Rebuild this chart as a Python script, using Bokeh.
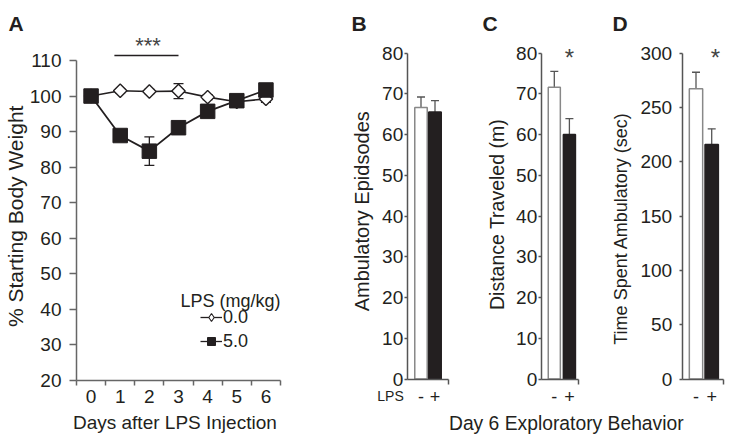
import math
from bokeh.plotting import figure
from bokeh.models import (Range1d, LinearAxis, FixedTicker, Label, Whisker, TeeHead,
                          ColumnDataSource, Legend, LegendItem)
from bokeh.embed import file_html
from bokeh.resources import INLINE

# ---------------- data ----------------
days = [0, 1, 2, 3, 4, 5, 6]
weight_ticks = [20, 30, 40, 50, 60, 70, 80, 90, 100, 110]
weight_ctrl = [100.0, 101.5, 101.3, 101.4, 99.7, 98.4, 99.2]        # LPS 0.0 mg/kg
weight_ctrl_sem = [0.4, 0.6, 0.6, 2.1, 0.7, 0.8, 1.0]
weight_lps = [100.0, 88.9, 84.5, 91.1, 95.7, 98.7, 101.7]           # LPS 5.0 mg/kg
weight_lps_sem = [0.5, 1.0, 4.0, 1.0, 1.2, 1.5, 1.8]
legend_doses = ["0.0", "5.0"]
sig_days = [0.8, 3.0]
sig_level = [111.4, 111.4]

lps_groups = ["-", "+"]
episodes = [66.6, 65.5]
episodes_sem = [2.6, 2.8]
episode_ticks = [0, 10, 20, 30, 40, 50, 60, 70, 80]
distance = [71.6, 60.0]
distance_sem = [3.9, 3.9]
distance_ticks = [0, 10, 20, 30, 40, 50, 60, 70, 80]
time_amb = [267.0, 215.8]
time_amb_sem = [15.3, 14.4]
time_ticks = [0, 50, 100, 150, 200, 250, 300]

# ---------------- layout ----------------
W, H = 729, 439
OFF = 8
FONT = "Liberation Sans"
INK = "#231f20"
AXC = "#555555"
NAN = float("nan")


def lin(v0, p0, v1, p1):
    p0, p1 = p0 + OFF, p1 + OFF
    s = (v1 - v0) / (p1 - p0)
    return lambda p: v0 + (p - p0) * s


def xrange_from(v0, p0, v1, p1):
    f = lin(v0, p0, v1, p1)
    return Range1d(f(0), f(W)), (lambda q: f(q + OFF))


def yrange_from(v0, p0, v1, p1):
    f = lin(v0, p0, v1, p1)
    return Range1d(f(H), f(0)), (lambda q: f(q + OFF))


p = figure(width=W, height=H, x_range=Range1d(0, W), y_range=Range1d(0, H),
           x_axis_type=None, y_axis_type=None, title=None,
           toolbar_location=None, output_backend="svg", min_border=0,
           outline_line_color=None, background_fill_color="white",
           border_fill_color="white")

xA, fxA = xrange_from(-0.5, 68, 6.5, 272)
yA, fyA = yrange_from(20, 372, 110, 52)
xB, fxB = xrange_from(0, 412.5, 1, 426.5)
yB, fyB = yrange_from(0, 370.5, 80, 44.5)
xC, fxC = xrange_from(0, 545.8, 1, 560.9)
yC, fyC = yrange_from(0, 370.5, 80, 44.5)
xD, fxD = xrange_from(0, 687.5, 1, 703.2)
yD, fyD = yrange_from(0, 370.5, 300, 44.5)
p.extra_x_ranges = {"A": xA, "B": xB, "C": xC, "D": xD}
p.extra_y_ranges = {"A": yA, "B": yB, "C": yC, "D": yD}


def txt(s, x, y, size, align="center", baseline="middle", angle=0.0,
        bold=False, color=INK):
    p.add_layout(Label(x=x + OFF, y=H - (y + OFF), text=s, text_font=FONT,
                       text_font_size=f"{size}px", text_align=align,
                       text_baseline=baseline, angle=angle,
                       text_font_style="bold" if bold else "normal",
                       text_color=color))


def style_axis(ax, color, tick_size="19px"):
    ax.axis_line_color = color
    ax.axis_line_width = 1.5
    ax.major_tick_line_color = color
    ax.major_tick_line_width = 1.5
    ax.minor_tick_line_color = color
    ax.minor_tick_line_width = 1.5
    ax.major_label_text_font = FONT
    ax.major_label_text_font_size = tick_size
    ax.major_label_text_color = INK
    ax.major_tick_in = 0
    ax.minor_tick_in = 0


# ---------------- panel A ----------------
ay = LinearAxis(x_range_name="A", y_range_name="A", fixed_location=-0.5,
                bounds=(weight_ticks[0], weight_ticks[-1]),
                ticker=FixedTicker(ticks=weight_ticks, minor_ticks=[]))
style_axis(ay, "#666666")
ay.major_tick_out = 7
ay.minor_tick_out = 0
ay.major_label_standoff = 8
p.add_layout(ay, "left")

ax = LinearAxis(x_range_name="A", y_range_name="A", fixed_location=weight_ticks[0],
                bounds=(days[0] - 0.5, days[-1] + 0.5),
                ticker=FixedTicker(ticks=days, minor_ticks=[d - 0.5 for d in days] + [days[-1] + 0.5]))
style_axis(ax, "#666666")
ax.major_tick_out = 0
ax.minor_tick_out = 5
ax.major_label_standoff = 4
p.add_layout(ax, "below")

src_c = ColumnDataSource(dict(x=days, y=weight_ctrl,
                              lo=[m - e for m, e in zip(weight_ctrl, weight_ctrl_sem)],
                              hi=[m + e for m, e in zip(weight_ctrl, weight_ctrl_sem)]))
src_l = ColumnDataSource(dict(x=days, y=weight_lps,
                              lo=[m - e for m, e in zip(weight_lps, weight_lps_sem)],
                              hi=[m + e for m, e in zip(weight_lps, weight_lps_sem)]))
for s in (src_c, src_l):
    p.add_layout(Whisker(source=s, base="x", lower="lo", upper="hi", dimension="height",
                         x_range_name="A", y_range_name="A", level="underlay",
                         line_color=INK, line_width=1.3,
                         upper_head=TeeHead(size=10, line_color=INK, line_width=1.3),
                         lower_head=TeeHead(size=10, line_color=INK, line_width=1.3)))

p.line("x", "y", source=src_c, x_range_name="A", y_range_name="A", line_color=INK, line_width=1.6)
p.scatter("x", "y", source=src_c, x_range_name="A", y_range_name="A", marker="square",
          angle=math.pi / 4, size=9.5, fill_color="white", line_color=INK, line_width=1.4)
p.line("x", "y", source=src_l, x_range_name="A", y_range_name="A", line_color=INK, line_width=1.8)
p.scatter("x", "y", source=src_l, x_range_name="A", y_range_name="A", marker="square",
          size=14.5, fill_color=INK, line_color=INK)

p.segment(x0=[sig_days[0]], x1=[sig_days[1]], y0=[sig_level[0]], y1=[sig_level[1]],
          x_range_name="A", y_range_name="A", line_color=INK, line_width=1.6)
txt("***", 139.5, 37, 22, baseline="alphabetic", color="#444444")

# legend (proxy renderers; NaN points are never drawn in the plot itself)
lg0_line = p.line(x=[NAN], y=[NAN], line_color=INK, line_width=1.3)
lg0_mark = p.scatter(x=[NAN], y=[NAN], marker="diamond", size=11,
                     fill_color="white", line_color=INK, line_width=1.1)
lg1_line = p.line(x=[NAN], y=[NAN], line_color=INK, line_width=1.3)
lg1_mark = p.scatter(x=[NAN], y=[NAN], marker="square", size=8, fill_color=INK, line_color=INK)
leg = Legend(items=[LegendItem(label=legend_doses[0], renderers=[lg0_line, lg0_mark]),
                    LegendItem(label=legend_doses[1], renderers=[lg1_line, lg1_mark])],
             location=(192 + OFF, H - (343.5 + OFF)), orientation="vertical",
             glyph_width=22, glyph_height=20, label_height=20, label_standoff=1,
             spacing=3, padding=0, margin=0, border_line_color=None,
             background_fill_alpha=0, label_text_font=FONT,
             label_text_font_size="18px", label_text_color=INK)
p.add_layout(leg)
txt("LPS (mg/kg)", 172, 292, 18, align="left")

txt("% Starting Body Weight", 7, 207.8, 21, angle=math.pi / 2)
txt("Days  after LPS Injection", 169, 413.7, 19)
txt("A", 0, 15, 21, align="left", baseline="alphabetic", bold=True)


# ---------------- bar panels ----------------
def bar_panel(name, fx, vals, sems, ticks, left_px, right_px, standoff, ylabel,
              ylabel_xy, ylabel_size, letter_x, width):
    lo_b, hi_b = fx(left_px), fx(right_px)
    yax = LinearAxis(x_range_name=name, y_range_name=name, fixed_location=lo_b,
                     bounds=(ticks[0], ticks[-1]),
                     ticker=FixedTicker(ticks=ticks, minor_ticks=[]))
    style_axis(yax, AXC)
    yax.major_tick_out = 3
    yax.minor_tick_out = 0
    yax.major_label_standoff = standoff
    p.add_layout(yax, "left")

    xax = LinearAxis(x_range_name=name, y_range_name=name, fixed_location=ticks[0],
                     bounds=(lo_b, hi_b),
                     ticker=FixedTicker(ticks=list(range(len(lps_groups))), minor_ticks=[hi_b]),
                     major_label_overrides={i: g for i, g in enumerate(lps_groups)})
    style_axis(xax, AXC, tick_size="18px")
    xax.major_tick_out = 0
    xax.minor_tick_out = 5
    xax.major_label_standoff = 6
    p.add_layout(xax, "below")

    xs = list(range(len(lps_groups)))
    p.vbar(x=xs, top=vals, bottom=ticks[0], width=width, x_range_name=name, y_range_name=name,
           fill_color=["white", INK], line_color=["#888888", INK], line_width=1.5)
    src = ColumnDataSource(dict(x=xs, lo=vals, hi=[v + e for v, e in zip(vals, sems)]))
    p.add_layout(Whisker(source=src, base="x", lower="lo", upper="hi", dimension="height",
                         x_range_name=name, y_range_name=name, line_color="#555555",
                         line_width=1.3, lower_head=None,
                         upper_head=TeeHead(size=8, line_color="#555555", line_width=1.3)))
    txt(ylabel, ylabel_xy[0], ylabel_xy[1], ylabel_size, angle=math.pi / 2)
    txt(name, letter_x, 15, 21, align="left", baseline="alphabetic", bold=True)


bar_panel("B", fxB, episodes, episodes_sem, episode_ticks, 398.7, 440.3, 1,
          "Ambulatory Epidsodes", (353, 202.8), 20, 343, 0.89)
bar_panel("C", fxC, distance, distance_sem, distance_ticks, 532.7, 570.3, 1,
          "Distance Traveled (m)", (488.7, 206), 19.5, 474, 0.8)
bar_panel("D", fxD, time_amb, time_amb_sem, time_ticks, 673.7, 714.7, 7,
          "Time Spent Ambulatory (sec)", (612.5, 220), 18, 604, 0.85)

txt("*", 561, 48.7, 24, baseline="alphabetic", color="#444444")
txt("*", 707, 48.7, 24, baseline="alphabetic", color="#444444")
txt("LPS", 382, 387, 14)
txt("Day 6 Exploratory Behavior", 557.8, 415.3, 19.3)

open("out.html", "w").write(file_html(p, INLINE))
